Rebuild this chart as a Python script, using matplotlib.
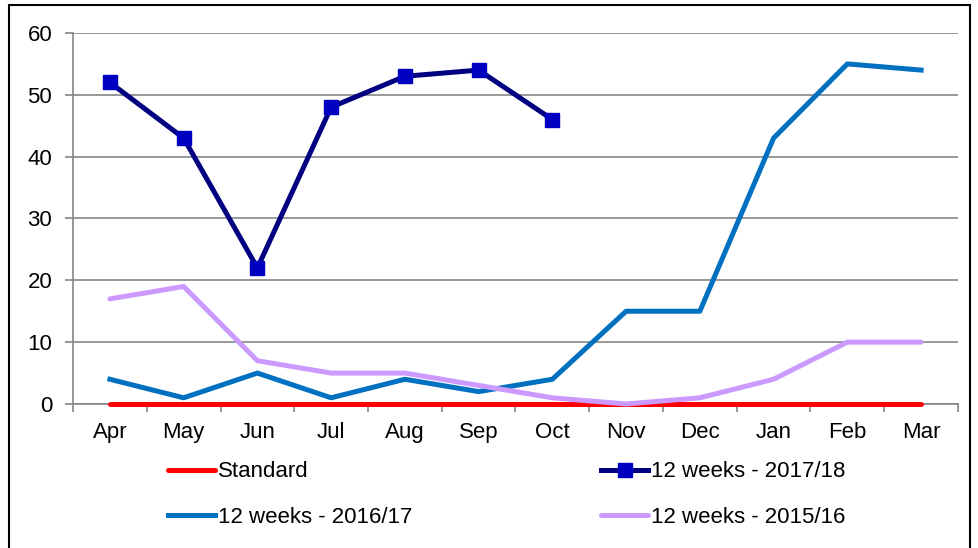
import matplotlib.pyplot as plt
from matplotlib.patches import Rectangle

plt.rcParams['font.family'] = ['Liberation Sans', 'DejaVu Sans']

months = ['Apr', 'May', 'Jun', 'Jul', 'Aug', 'Sep', 'Oct', 'Nov', 'Dec', 'Jan', 'Feb', 'Mar']
standard = [0, 0, 0, 0, 0, 0, 0, 0, 0, 0, 0, 0]
wk_2017 = [52, 43, 22, 48, 53, 54, 46]
wk_2016 = [4, 1, 5, 1, 4, 2, 4, 15, 15, 43, 55, 54]
wk_2015 = [17, 19, 7, 5, 5, 3, 1, 0, 1, 4, 10, 10]

fig = plt.figure(figsize=(9.79, 5.48), dpi=100)
ax = fig.add_axes([0.0746, 0.2628, 0.9039, 0.677])

x = list(range(len(months)))
l_std, = ax.plot(x, standard, color='#FF0000', lw=3.6, clip_on=False, solid_capstyle='round', zorder=3)
l_17, = ax.plot(x[:len(wk_2017)], wk_2017, color='#000080', lw=3.6, marker='s', markersize=10,
                markerfacecolor='#0000C0', markeredgecolor='#0000C0', zorder=4)
l_16, = ax.plot(x, wk_2016, color='#0070C0', lw=3.6, zorder=3)
l_15, = ax.plot(x, wk_2015, color='#CC99FF', lw=3.6, clip_on=False, solid_capstyle='round', zorder=3)

ax.set_xlim(-0.5, 11.5)
ax.set_ylim(0, 60)
ax.set_yticks(range(0, 61, 10))
ax.yaxis.grid(True, color='#868686', lw=1.2)
ax.set_axisbelow(True)

# ticks between categories, labels at categories
ax.set_xticks([i - 0.5 for i in range(13)])
ax.set_xticklabels([])
ax.set_xticks(x, minor=True)
ax.set_xticklabels(months, minor=True)
ax.tick_params(axis='x', which='major', length=6, color='#868686', width=1.2)
ax.tick_params(axis='x', which='minor', length=0, pad=13, labelsize=16)
ax.tick_params(axis='y', length=6, color='#868686', width=1.2, labelsize=16, pad=9)

for s in ['top', 'right']:
    ax.spines[s].set_visible(False)
for s in ['left', 'bottom']:
    ax.spines[s].set_color('#868686')
    ax.spines[s].set_linewidth(1.2)

fig.legend([l_std, l_16, l_17, l_15],
           ['Standard', '12 weeks - 2016/17', '12 weeks - 2017/18', '12 weeks - 2015/16'],
           ncol=2, loc='upper left', bbox_to_anchor=(0.1716, 0.158), frameon=False,
           fontsize=16, handlelength=2.1, handletextpad=0.15, columnspacing=8.5,
           labelspacing=1.1, borderpad=0, borderaxespad=0, numpoints=1)

fig.patches.append(Rectangle((9 / 979, -0.05), 961 / 979, 1.05 - 5 / 548, transform=fig.transFigure,
                             fill=False, edgecolor='black', lw=1.5))

fig.savefig('out.png', dpi=100)
